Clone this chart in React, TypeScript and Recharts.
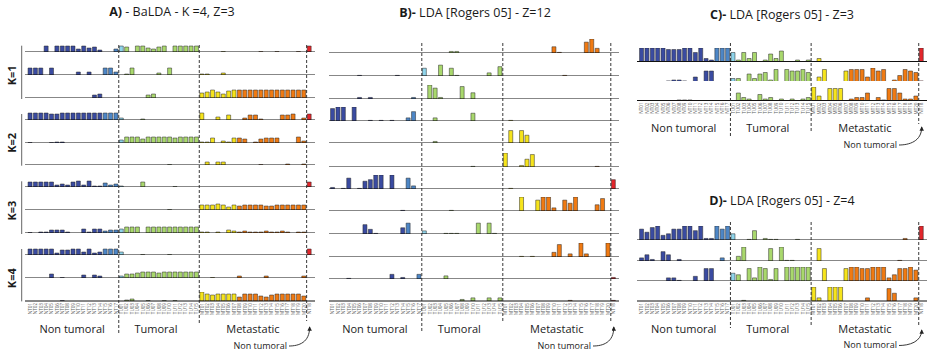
import React from 'react';
import { BarChart, Bar, XAxis, YAxis, Cell, ReferenceLine } from 'recharts';

// sample ids along the x axis (same order in every panel)
const nonTumoralIds = ['NT01', 'NT02', 'NT03', 'NT04', 'NT05', 'NT06', 'NT07', 'NT08', 'NT09', 'NT10', 'NT11', 'NT12', 'NT13', 'NT14', 'NT15', 'NT16', 'NT17'];
const tumoralIds = ['TU01', 'TU02', 'TU03', 'TU04', 'TU05', 'TU06', 'TU07', 'TU08', 'TU09', 'TU10', 'TU11', 'TU12', 'TU13', 'TU14', 'TU15'];
const metastaticIds = ['MT01', 'MT02', 'MT03', 'MT04', 'MT05', 'MT06', 'MT07', 'MT08', 'MT09', 'MT10', 'MT11', 'MT12', 'MT13', 'MT14', 'MT15', 'MT16', 'MT17', 'MT18', 'MT19', 'MT20'];
const lastIds = ['NT18'];

// colour class of each sample
const nonTumoralTones = 'DDDDDDDDDDDDDDLLL';
const tumoralTones = 'CGGGGGGGGGGGGGG';
const metastaticTones = 'YYYYYYYOOOOOOOOOOOOO';
const lastTones = 'R';

const toneColor: Record<string, string> = {
  D: '#3a4ba1',
  L: '#4d86c6',
  C: '#8fd4ea',
  G: '#a9d86d',
  Y: '#f6e41c',
  O: '#f07a12',
  R: '#e3262b',
};

// topic proportions, one digit per sample (0..9, '.' = trace)
// each row: [non tumoral, tumoral, metastatic, last non tumoral]
const balda = [
  ['00060666636452003', '650664356066666', '0000.000000.00.000.0', '6'],
  ['77707000030300773', '017000020700000', '11002000000000000000', '0'],
  ['00000000000034000', '000003400000000', '56864788888888888888', '0'],
  ['77776677777777777', '200010000000000', '70030500255100055602', '6'],
  ['.000.110000000000', '366646666656666', '11502155401455500062', '0'],
  ['00000000000000000', '000000000.00000', '03033000000.00001001', '0'],
  ['55555232562611423', '1000500000.0000', '00000000000000000000', '5'],
  ['00000000000000000', '000000000.00000', '55565354555544555555', '0'],
  ['.0113331004144233', '466606666666666', '11010321211121121011', '0'],
  ['66666255663623666', '3000.0000.00000', '00000000000000000000', '6'],
  ['000040.0003032000', '244566656666666', '00.00002000020000002', '0'],
  ['000000.0000000000', '01200.00.0.0000', '97677774777546777775', '0'],
];

const ldaZ12 = [
  ['00000000000000000', '000001100000000', '0000000004.000079300', '0'],
  ['00000.000000.0000', '500705.00000206', '00000000000.00000000', '0'],
  ['00000101000000010', '097100080400000', '00000000000000000000', '0'],
  ['8990900.0.0.00260', '002000000500000', '0.000000000000000000', '0'],
  ['00000000000000000', '001000000000000', '08085000000000000000', '0'],
  ['00000000000000000', '000000000.00000', '90015800000000000.00', '0'],
  ['10.70.56990900720', '000000000000000', '0.000000000000000000', '6'],
  ['0000000000000.000', '00000.000000000', '00090079920759000480', '0'],
  ['00000063.00004700', '2000...000707.0', '00000000000000000000', '0'],
  ['00000000000000000', '000000000000000', '000.0.00038020920009', '0'],
  ['000.0000000301003', '000020000000000', '00000000000000000000', '1'],
  ['00000000000000000', '000000010200202', '000000000000.0000000', '.'],
];

const ldaZ3 = [
  ['99999888996921999', '616260152700101', '02000000000000000000', '9'],
  ['00000.11.03077000', '220525618087786', '03800078883978014876', '.'],
  ['0000000...0000000', '052104120101012', '9308880122502.885113', '0'],
];

const ldaZ4 = [
  ['75893477996911979', '400.601..000.00', '00000000000000000100', '9'],
  ['24106401000000020', '0390000809..000', '0800000000000000.000', '0'],
  ['0000022.003088000', '540829818099999', '00800089988999248897', '0'],
  ['00000000000000000', '00.000000000000', '92099900002000850002', '0'],
];

const sampleIds = [...nonTumoralIds, ...tumoralIds, ...metastaticIds, ...lastIds];
const sampleTones = (nonTumoralTones + tumoralTones + metastaticTones + lastTones).split('');
const N = sampleIds.length;

const FONT = "'Open Sans', 'DejaVu Sans', sans-serif";

function buildData(row: string[]) {
  const digits = row.join('').split('');
  return sampleIds.map((id, i) => ({
    id,
    v: digits[i] === '.' ? 0.4 : Number(digits[i] || 0),
    tone: sampleTones[i],
  }));
}

const renderTick = (props: any) => {
  const { x, y, payload } = props;
  return (
    <text
      x={x}
      y={y}
      transform={`rotate(-90 ${x} ${y})`}
      textAnchor="end"
      dy="0.35em"
      fontSize={4.6}
      fill="#606060"
      fontFamily={FONT}
    >
      {payload.value}
    </text>
  );
};

interface PanelCfg {
  left: number;
  width: number;
  padL: number;
  padR: number;
  plotH: number;
  baselines: number[];
}

function Strip({ row, cfg, baseline, ticks }: { row: string[]; cfg: PanelCfg; baseline: number; ticks: boolean }) {
  const mt = 2;
  const axisH = ticks ? 18 : 0;
  const data = buildData(row);
  return (
    <div style={{ position: 'absolute', left: cfg.left, top: baseline - cfg.plotH - mt }}>
      <BarChart
        width={cfg.width}
        height={mt + cfg.plotH + axisH}
        data={data}
        margin={{ top: mt, right: 0, bottom: 0, left: 0 }}
        barCategoryGap="10%"
      >
        <XAxis
          dataKey="id"
          interval={0}
          height={axisH}
          padding={{ left: cfg.padL, right: cfg.padR }}
          axisLine={false}
          tickLine={false}
          tickSize={0}
          tickMargin={2}
          tick={ticks ? renderTick : false}
        />
        <YAxis hide domain={[0, 9]} allowDataOverflow />
        <Bar dataKey="v" isAnimationActive={false} stroke="#262626" strokeWidth={0.5}>
          {data.map((d, i) => (
            <Cell key={i} fill={toneColor[d.tone]} />
          ))}
        </Bar>
        <ReferenceLine y={0} stroke="#111" strokeWidth={1.2} />
      </BarChart>
    </div>
  );
}

const cfgA: PanelCfg = {
  left: 25, width: 290, padL: 2.5, padR: 3, plotH: 9,
  baselines: [51.7, 75, 98.3, 120, 142.7, 165, 187.3, 209.5, 233.3, 255, 277.7, 300.7],
};
const cfgB: PanelCfg = {
  left: 329, width: 290, padL: 1, padR: 2.8, plotH: 14,
  baselines: [53.3, 76, 99, 120.7, 143.3, 166.7, 189, 211, 234, 257.3, 279.3, 301],
};
const cfgC: PanelCfg = {
  left: 637, width: 290, padL: 2, padR: 2.9, plotH: 13.5,
  baselines: [61.7, 81, 100],
};
const cfgD: PanelCfg = {
  left: 637, width: 290, padL: 2, padR: 2.9, plotH: 14,
  baselines: [240, 260.7, 281, 301],
};

function boundaryX(cfg: PanelCfg, k: number) {
  const band = (cfg.width - cfg.padL - cfg.padR) / N;
  return cfg.left + cfg.padL + k * band;
}

const boundaries = [nonTumoralIds.length, nonTumoralIds.length + tumoralIds.length, N - lastIds.length];

function Panel({ rows, cfg }: { rows: string[][]; cfg: PanelCfg }) {
  return (
    <>
      {rows.map((r, i) => (
        <Strip key={i} row={r} cfg={cfg} baseline={cfg.baselines[i]} ticks={i === rows.length - 1} />
      ))}
    </>
  );
}

function Dashes({ cfg, top, bottoms }: { cfg: PanelCfg; top: number; bottoms: number[] }) {
  return (
    <>
      {boundaries.map((k, i) => {
        const x = boundaryX(cfg, k);
        return <line key={i} x1={x} x2={x} y1={top} y2={bottoms[i]} stroke="#222" strokeWidth={0.9} strokeDasharray="3 2" />;
      })}
    </>
  );
}

function GroupLabels({ cfg, y, arrowY, noteY, noteX }: { cfg: PanelCfg; y: number; arrowY: number; noteY: number; noteX: number }) {
  const b0 = boundaryX(cfg, 0);
  const b1 = boundaryX(cfg, boundaries[0]);
  const b2 = boundaryX(cfg, boundaries[1]);
  const b3 = boundaryX(cfg, boundaries[2]);
  const tipX = b3 + 3;
  return (
    <g fontFamily={FONT} fill="#222">
      <text x={(b0 + b1) / 2 - 1} y={y} fontSize={11} textAnchor="middle">Non tumoral</text>
      <text x={(b1 + b2) / 2 - 3} y={y} fontSize={11} textAnchor="middle">Tumoral</text>
      <text x={(b2 + b3) / 2} y={y} fontSize={11} textAnchor="middle">Metastatic</text>
      <text x={noteX} y={noteY} fontSize={9} textAnchor="end">Non tumoral</text>
      <path
        d={`M ${noteX + 2} ${noteY - 2.5} C ${noteX + 12} ${noteY - 2.5}, ${tipX} ${noteY - 6}, ${tipX} ${arrowY}`}
        fill="none"
        stroke="#222"
        strokeWidth={0.9}
        markerEnd="url(#arrowHead)"
      />
    </g>
  );
}

function Title({ x, y, bold, rest }: { x: number; y: number; bold: string; rest: string }) {
  return (
    <text x={x} y={y} fontSize={12.5} textAnchor="middle" fontFamily={FONT} fill="#1a1a1a">
      <tspan fontWeight="bold">{bold}</tspan>
      {rest}
    </text>
  );
}

const kLabels = ['K=1', 'K=2', 'K=3', 'K=4'];

export default function App() {
  return (
    <div style={{ position: 'absolute', left: 0, top: 0, width: 929, height: 355, background: '#fff', overflow: 'hidden' }}>
      <Panel rows={balda} cfg={cfgA} />
      <Panel rows={ldaZ12} cfg={cfgB} />
      <Panel rows={ldaZ3} cfg={cfgC} />
      <Panel rows={ldaZ4} cfg={cfgD} />
      <svg width={929} height={355} style={{ position: 'absolute', left: 0, top: 0, pointerEvents: 'none' }}>
        <defs>
          <marker id="arrowHead" viewBox="0 0 6 6" refX={5} refY={3} markerWidth={5} markerHeight={5} orient="auto">
            <path d="M0,0 L6,3 L0,6 z" fill="#222" />
          </marker>
        </defs>

        <Title x={172} y={16} bold="A)" rest=" - BaLDA - K =4, Z=3" />
        <Title x={475} y={17} bold="B)-" rest=" LDA [Rogers 05] - Z=12" />
        <Title x={782} y={18.5} bold="C)-" rest=" LDA [Rogers 05] - Z=3" />
        <Title x={782} y={205} bold="D)-" rest=" LDA [Rogers 05] - Z=4" />

        {kLabels.map((k, i) => {
          const top = cfgA.baselines[i * 3] - 6;
          const bottom = cfgA.baselines[i * 3 + 2] + 0.7;
          const cy = (top + bottom) / 2 + 3;
          return (
            <g key={k}>
              <line x1={21.7} x2={21.7} y1={top} y2={bottom} stroke="#666" strokeWidth={1} />
              <text
                x={12.5}
                y={cy}
                transform={`rotate(-90 12.5 ${cy})`}
                textAnchor="middle"
                dy="0.36em"
                fontSize={11}
                fontWeight="bold"
                fontFamily={FONT}
                fill="#1a1a1a"
              >
                {k}
              </text>
            </g>
          );
        })}

        <Dashes cfg={cfgA} top={45} bottoms={[333, 323, 321]} />
        <Dashes cfg={cfgB} top={43} bottoms={[333, 323, 323]} />
        <Dashes cfg={cfgC} top={43} bottoms={[136, 133, 124]} />
        <Dashes cfg={cfgD} top={222} bottoms={[328, 326, 326]} />

        <GroupLabels cfg={cfgA} y={332.5} arrowY={327} noteY={348.5} noteX={287} />
        <GroupLabels cfg={cfgB} y={332.5} arrowY={327} noteY={348.5} noteX={591} />
        <GroupLabels cfg={cfgC} y={131.5} arrowY={127} noteY={147.5} noteX={897} />
        <GroupLabels cfg={cfgD} y={333} arrowY={330} noteY={348} noteX={897} />
      </svg>
    </div>
  );
}
